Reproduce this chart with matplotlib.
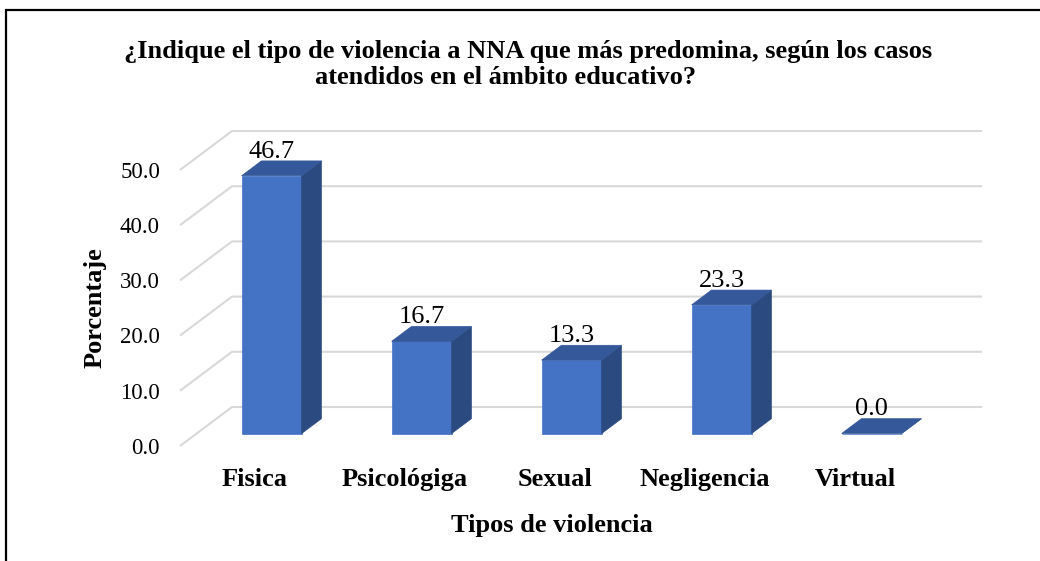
import numpy as np
import matplotlib
matplotlib.use("Agg")
import matplotlib.pyplot as plt
from matplotlib.patches import Polygon, Rectangle

plt.rcParams['font.family'] = ['Liberation Serif', 'DejaVu Serif']

categories = ["Fisica", "Psicológiga", "Sexual", "Negligencia", "Virtual"]
values = [46.7, 16.7, 13.3, 23.3, 0.0]
yticks = [0, 10, 20, 30, 40, 50]
title_l1 = "¿Indique el tipo de violencia a NNA que más predomina, según los casos"
title_l2 = "atendidos en el ámbito educativo?"

W, H = 1040, 561
fig = plt.figure(figsize=(W / 100, H / 100), dpi=100)
ax = fig.add_axes([0, 0, 1, 1])
ax.set_axis_off()

# map: 1 category = 150 px, 1 percent = 5.52 px, front-plane origin at px (255, 446)
CX, CY = 150.0, 5.52
X0, Y0 = 255.0, 446.0
ax.set_xlim(-X0 / CX, (W - X0) / CX)
ax.set_ylim((Y0 - H) / CY, Y0 / CY)

# depth direction (front plane -> back wall)
DX = 52 / CX
DY = 39 / CY

def proj(x, y, d):
    return x + d * DX, y + d * DY

grid_c = '#D9D9D9'
left, right = -0.5, len(categories) - 0.5
for t in yticks:
    x1, y1 = proj(left, t, 0)
    x2, y2 = proj(left, t, 1)
    x3, y3 = proj(right, t, 1)
    ax.plot([x1, x2, x3], [y1, y2, y3], color=grid_c, lw=1.5, zorder=1,
            solid_capstyle='butt')
    ax.text(-95 / CX, t - 0.4, f"{t:.1f}", ha='right', va='center', fontsize=16.5)

# 3D columns
front_c, side_c, top_c = '#4472C4', '#2B4A80', '#345899'
bw = 0.4
d0, d1 = 0.32, 0.70
xs = np.arange(len(categories))
fx, fy = proj(xs, 0, d0)
ax.bar(fx, values, width=bw, bottom=fy, color=front_c, edgecolor=front_c,
       lw=0.5, zorder=3)
for x, v in zip(xs, values):
    xl, xr = x - bw / 2, x + bw / 2
    side = [proj(xr, 0, d0), proj(xr, 0, d1), proj(xr, v, d1), proj(xr, v, d0)]
    top = [proj(xl, v, d0), proj(xr, v, d0), proj(xr, v, d1), proj(xl, v, d1)]
    ax.add_patch(Polygon(side, closed=True, fc=side_c, ec=side_c, lw=0.5, zorder=3))
    ax.add_patch(Polygon(top, closed=True, fc=top_c, ec=top_c, lw=0.5, zorder=4))
    lx, _ = proj(x, v, d0)
    _, ly = proj(x, v, d1)
    ax.text(lx, ly + 0.6, f"{v:.1f}", ha='center', va='baseline',
            fontsize=19, zorder=5)

for x, c in zip(xs, categories):
    ax.text(x, -40 / CY, c, ha='center', va='baseline', fontsize=19,
            fontweight='bold')

ax.text((552 - X0) / CX, (Y0 - 532) / CY, "Tipos de violencia", ha='center',
        va='baseline', fontsize=19, fontweight='bold')
ax.text((95 - X0) / CX, (Y0 - 308) / CY, "Porcentaje", ha='center', va='center',
        rotation=90, fontsize=19, fontweight='bold')

fig.text(528 / W, 1 - 58 / H, title_l1, ha='center', va='baseline',
         fontsize=19, fontweight='bold')
fig.text(506 / W, 1 - 84 / H, title_l2, ha='center', va='baseline',
         fontsize=19, fontweight='bold')

# outer frame (cropped on right and bottom)
fig.patches.append(Rectangle((5.5 / W, -0.1), 1.2, 1 - 10 / H + 0.1,
                             transform=fig.transFigure, fill=False,
                             ec='black', lw=1.6))

fig.savefig("out.png", dpi=100)
